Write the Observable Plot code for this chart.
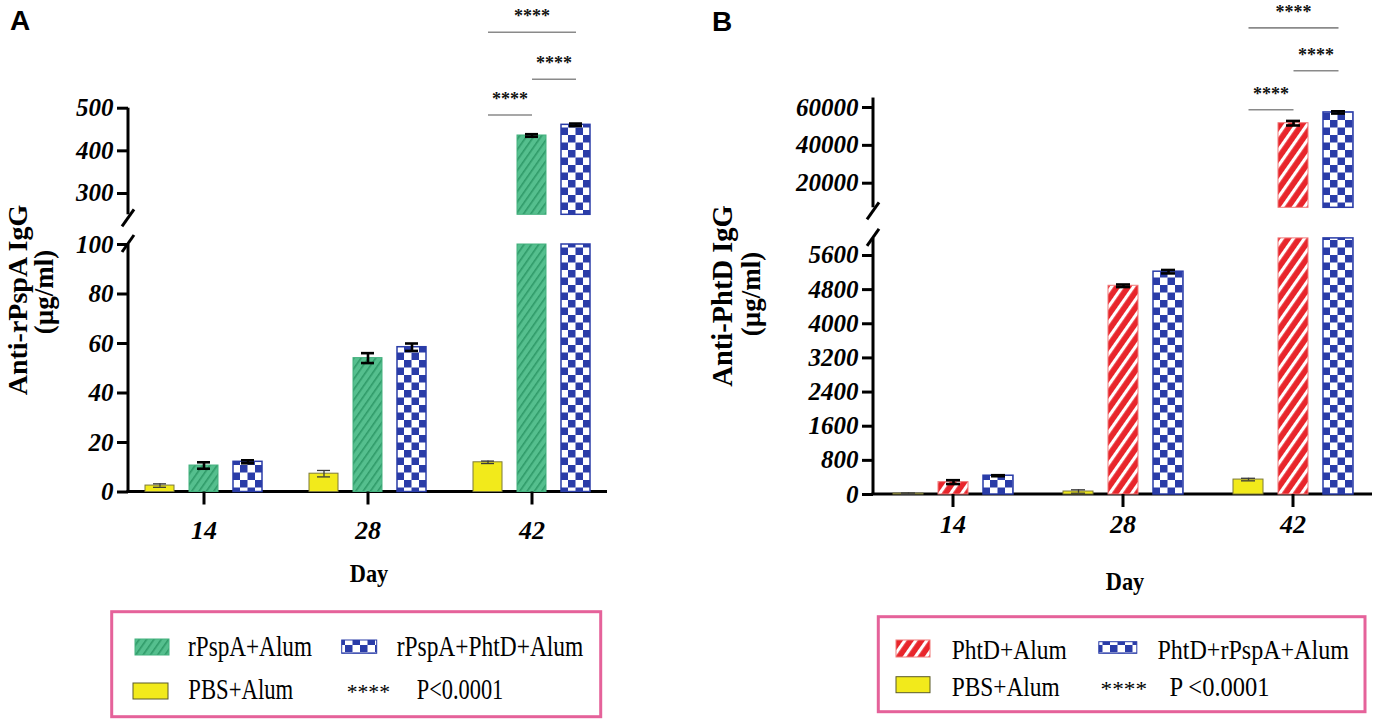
<!DOCTYPE html>
<html><head><meta charset="utf-8">
<script src="https://cdn.jsdelivr.net/npm/d3@7"></script>
<script src="https://cdn.jsdelivr.net/npm/@observablehq/plot@0.6"></script>
<style>
body{margin:0;background:#fff;}
#root{position:relative;width:1381px;height:723px;overflow:hidden;background:#fff;}
#panelA,#panelB,#overlay{position:absolute;top:0;}
#panelA{left:0px;} #panelB{left:690px;}
#overlay{left:0;pointer-events:none;}
</style></head>
<body><div id="root">
<svg width="0" height="0" style="position:absolute"><defs>
  <pattern id="hatchGreen" patternUnits="userSpaceOnUse" width="6" height="6" patternTransform="rotate(35)">
    <rect width="6" height="6" fill="#55bf8e"/>
    <rect width="1.6" height="6" fill="#2f9a68"/>
  </pattern>
  <pattern id="checkBlue" patternUnits="userSpaceOnUse" width="15" height="15">
    <rect width="15" height="15" fill="#ffffff"/>
    <rect width="7.5" height="7.5" fill="#2a3ca8"/>
    <rect x="7.5" y="7.5" width="7.5" height="7.5" fill="#2a3ca8"/>
  </pattern>
  <pattern id="stripeRed" patternUnits="userSpaceOnUse" width="9" height="9" patternTransform="rotate(35)">
    <rect width="9" height="9" fill="#e8252b"/>
    <rect width="3.2" height="9" fill="#ffffff"/>
  </pattern>
</defs></svg>
<div id="panelA"></div><div id="panelB"></div>
<svg id="overlay" width="1381" height="723"></svg>
</div>
<script>
// ---------- data ----------
const days = ["14", "28", "42"];

// Panel A: anti-rPspA IgG (µg/ml)
const groupsA = ["PBS+Alum", "rPspA+Alum", "rPspA+PhtD+Alum"];
const pbsA = [2.6, 7.4, 12.0];
const pbsA_sd = [0.7, 1.3, 0.5];
const rpspaA = [10.7, 54.1, 436];
const rpspaA_sd = [1.3, 2.0, 3];
const comboA = [12.2, 58.5, 461];
const comboA_sd = [0.6, 1.5, 3];
const yTicksA = [0, 20, 40, 60, 80, 100, 300, 400, 500];
const sigFromA = ["PBS+Alum", "rPspA+Alum", "PBS+Alum"];
const sigToA = ["rPspA+PhtD+Alum", "rPspA+PhtD+Alum", "rPspA+Alum"];
const sigLevelA = [678, 568, 484];

// Panel B: anti-PhtD IgG (µg/ml)
const groupsB = ["PBS+Alum", "PhtD+Alum", "PhtD+rPspA+Alum"];
const pbsB = [20, 70, 350];
const pbsB_sd = [15, 40, 30];
const phtdB = [290, 4890, 51700];
const phtdB_sd = [45, 30, 1200];
const comboB = [440, 5220, 57400];
const comboB_sd = [12, 40, 600];
const yTicksB = [0, 800, 1600, 2400, 3200, 4000, 4800, 5600, 20000, 40000, 60000];
const sigFromB = ["PBS+Alum", "PhtD+Alum", "PBS+Alum"];
const sigToB = ["PhtD+rPspA+Alum", "PhtD+rPspA+Alum", "PhtD+Alum"];
const sigLevelB = [102100, 79400, 58800];

const sigDay = "42";
const sigText = "****";

// ---------- helpers ----------
const SERIF = "'Liberation Serif','Times New Roman',serif";

function brokenAxes(lowMax, upMin, top) {
  return Plot.frame({
    facet: "super",
    render(index, scales, values, dims) {
      const y = scales.y;
      const x0 = dims.marginLeft, x1 = dims.width - dims.marginRight;
      const g = d3.create("svg:g").attr("stroke", "#000").attr("stroke-width", 3).attr("fill", "none");
      const yb = y(0), yl = y(lowMax), yu = y(upMin), yt = y(top);
      const seg = (a, b, c, d) => g.append("line").attr("x1", a).attr("y1", b).attr("x2", c).attr("y2", d);
      seg(x0, yb, x0, yl);
      seg(x0, yu, x0, yt);
      seg(x0 - 1.5, yb, x1, yb);
      seg(x0 - 6, yu + 12, x0 + 6, yu - 5);
      seg(x0 - 6, yl + 8, x0 + 6, yl - 9);
      return g.node();
    }
  });
}

function makePanel(cfg) {
  const rows = [];
  cfg.groups.forEach((g, gi) => days.forEach((day, di) =>
    rows.push({day, group: g, gi, mean: cfg.means[gi][di], sd: cfg.sds[gi][di]})));
  const sig = cfg.sigFrom.map((f, i) => ({day: sigDay, from: f, to: cfg.sigTo[i], level: cfg.sigLevel[i]}));
  const marks = [brokenAxes(cfg.lowMax, cfg.upMin, cfg.axisTop)];
  cfg.groups.forEach((g, gi) => {
    const st = cfg.styles[gi];
    const r = rows.filter(d => d.gi === gi);
    marks.push(Plot.barY(r, {fx: "day", x: "group", y1: 0, y2: d => Math.min(d.mean, cfg.lowMax),
      fill: st.fill, stroke: st.stroke, strokeWidth: st.sw}));
    const up = r.filter(d => d.mean > cfg.upMin);
    if (up.length) marks.push(Plot.barY(up, {fx: "day", x: "group", y1: cfg.upMin, y2: "mean",
      fill: st.fill, stroke: st.stroke, strokeWidth: st.sw}));
  });
  const thin = rows.filter(d => d.gi === 0), thick = rows.filter(d => d.gi !== 0);
  for (const [r, col, sw] of [[thin, "#3a3a3a", 1.3], [thick, "#000", 2.6]]) {
    marks.push(Plot.ruleX(r, {fx: "day", x: "group", y1: d => d.mean - d.sd, y2: d => d.mean + d.sd, stroke: col, strokeWidth: sw}));
    marks.push(Plot.tickY(r, {fx: "day", x: "group", y: d => d.mean + d.sd, insetLeft: 8, insetRight: 8, stroke: col, strokeWidth: sw}));
    marks.push(Plot.tickY(r, {fx: "day", x: "group", y: d => d.mean - d.sd, insetLeft: 8, insetRight: 8, stroke: col, strokeWidth: sw}));
  }
  marks.push(Plot.link(sig, {fx: "day", x1: "from", x2: "to", y1: "level", y2: "level", stroke: "#8a8a8a", strokeWidth: 1.6,
    render(index, scales, values, dims, context, next) {
      const g = next(index, scales, values, dims, context);
      const sel = d3.select(g);
      for (const i of index) {
        sel.append("text").attr("x", (values.x1[i] + values.x2[i]) / 2).attr("y", values.y1[i] - 10)
          .attr("text-anchor", "middle").attr("fill", "#111").attr("stroke", "none")
          .attr("font-family", SERIF).attr("font-weight", "bold").attr("font-size", 18).text(sigText);
      }
      return g;
    }}));
  marks.push(Plot.axisY({ticks: cfg.ticks, tickFormat: d => String(d), tickSize: 11, tickPadding: 4, strokeWidth: 3,
    fontSize: 25, fontStyle: "italic", fontWeight: "bold", fontFamily: SERIF, label: null}));
  marks.push(Plot.axisFx({anchor: "bottom", tickSize: 13, tickPadding: cfg.fxPad, strokeWidth: 3,
    fontSize: 26, fontStyle: "italic", fontWeight: "bold", fontFamily: SERIF, label: null}));
  return Plot.plot({
    width: cfg.width, height: cfg.height,
    marginLeft: cfg.ml, marginRight: cfg.mr, marginTop: 0, marginBottom: cfg.height - cfg.yRange[0],
    fx: {domain: days, paddingInner: cfg.fxPi, paddingOuter: 0, axis: null, label: null},
    x: {domain: cfg.groups, paddingInner: 1 / 3, paddingOuter: cfg.xPo, axis: null, label: null},
    y: {type: "linear", domain: cfg.yDomain, range: cfg.yRange, axis: null, label: null},
    marks
  });
}

const yellow = {fill: "#f2ea1b", stroke: "#7d7a3a", sw: 1};
const blue = {fill: "url(#checkBlue)", stroke: "#2a3ca8", sw: 1.5};

document.getElementById("panelA").append(makePanel({
  groups: groupsA, means: [pbsA, rpspaA, comboA], sds: [pbsA_sd, rpspaA_sd, comboA_sd],
  styles: [yellow, {fill: "url(#hatchGreen)", stroke: "#45b17f", sw: 1}, blue],
  ticks: yTicksA, lowMax: 100, upMin: 250, axisTop: 500,
  yDomain: [0, 100, 250, 500], yRange: [491.5, 244, 214.3, 107.7],
  sigFrom: sigFromA, sigTo: sigToA, sigLevel: sigLevelA,
  width: 640, height: 560, ml: 128, mr: 32, fxPi: 0.077, xPo: 0.351, fxPad: 16
}));

document.getElementById("panelB").append(makePanel({
  groups: groupsB, means: [pbsB, phtdB, comboB], sds: [pbsB_sd, phtdB_sd, comboB_sd],
  styles: [yellow, {fill: "url(#stripeRed)", stroke: "#f07a7a", sw: 1}, blue],
  ticks: yTicksB, lowMax: 6000, upMin: 7000, axisTop: 65000,
  yDomain: [0, 6000, 7000, 60000], yRange: [494, 237.9, 207.3, 107],
  sigFrom: sigFromB, sigTo: sigToB, sigLevel: sigLevelB,
  width: 691, height: 560, ml: 183, mr: 8.8, fxPi: 0.065, xPo: 0.407, fxPad: 7
}));

// ---------- titles, axis labels, legends ----------
const ov = d3.select("#overlay");
function txt(x, y, s, o = {}) {
  const t = ov.append("text").attr("x", x).attr("y", y).text(s)
    .attr("font-family", o.family || SERIF).attr("font-size", o.size || 28)
    .attr("font-weight", o.weight || "normal").attr("fill", "#000")
    .attr("text-anchor", o.anchor || "start");
  if (o.len) t.attr("textLength", o.len).attr("lengthAdjust", "spacingAndGlyphs");
  if (o.rotate) t.attr("transform", `rotate(-90,${x},${y})`);
  return t;
}
const SANS = "'Liberation Sans',Arial,sans-serif";
txt(10, 30, "A", {family: SANS, weight: "bold", size: 28});
txt(712, 30.5, "B", {family: SANS, weight: "bold", size: 28});

txt(27, 300, "Anti-rPspA IgG", {weight: "bold", size: 28, anchor: "middle", rotate: true});
txt(53, 292, "(µg/ml)", {weight: "bold", size: 27, anchor: "middle", rotate: true});
txt(731.5, 296, "Anti-PhtD IgG", {weight: "bold", size: 28.5, anchor: "middle", rotate: true});
txt(760, 294, "(µg/ml)", {weight: "bold", size: 27, anchor: "middle", rotate: true});

txt(369, 582, "Day", {weight: "bold", size: 26, anchor: "middle", len: 38.5});
txt(1125, 590, "Day", {weight: "bold", size: 26, anchor: "middle", len: 38.5});

const PINK = "#e5629a";
function box(x, y, w, h) {
  ov.append("rect").attr("x", x).attr("y", y).attr("width", w).attr("height", h)
    .attr("fill", "none").attr("stroke", PINK).attr("stroke-width", 3);
}
function swatch(x, y, w, h, fill, stroke) {
  ov.append("rect").attr("x", x).attr("y", y).attr("width", w).attr("height", h)
    .attr("fill", fill).attr("stroke", stroke).attr("stroke-width", 1);
}
// Legend A
box(111.7, 611.7, 489, 105);
swatch(135, 639, 34, 16, "url(#hatchGreen)", "#45b17f");
swatch(133, 683, 35, 16, "#f2ea1b", "#5a5a2a");
swatch(341.7, 640, 35, 13.3, "url(#checkBlue)", "#2a3ca8");
txt(188, 656, "rPspA+Alum", {size: 28.5, len: 124});
txt(396.7, 656, "rPspA+PhtD+Alum", {size: 28.5, len: 186.6});
txt(188.3, 699.3, "PBS+Alum", {size: 28.5, len: 105});
txt(346.7, 699, "****", {size: 22, len: 43.3});
txt(416.7, 699, "P<0.0001", {size: 28.5, len: 86.6});
// Legend B
box(878.3, 616.7, 486.7, 95);
swatch(896, 640, 34, 17, "url(#stripeRed)", "#f07a7a");
swatch(896, 676.7, 34, 16, "#f2ea1b", "#5a5a2a");
swatch(1098.8, 641.7, 38, 11.6, "url(#checkBlue)", "#2a3ca8");
txt(951.7, 658.5, "PhtD+Alum", {size: 27, len: 115});
txt(1157.4, 658.5, "PhtD+rPspA+Alum", {size: 27, len: 191.5});
txt(951.7, 695.5, "PBS+Alum", {size: 27, len: 108});
txt(1100.5, 695.5, "****", {size: 22, len: 46.5});
txt(1169.5, 695.5, "P <0.0001", {size: 27, len: 100});
</script>
</body></html>
